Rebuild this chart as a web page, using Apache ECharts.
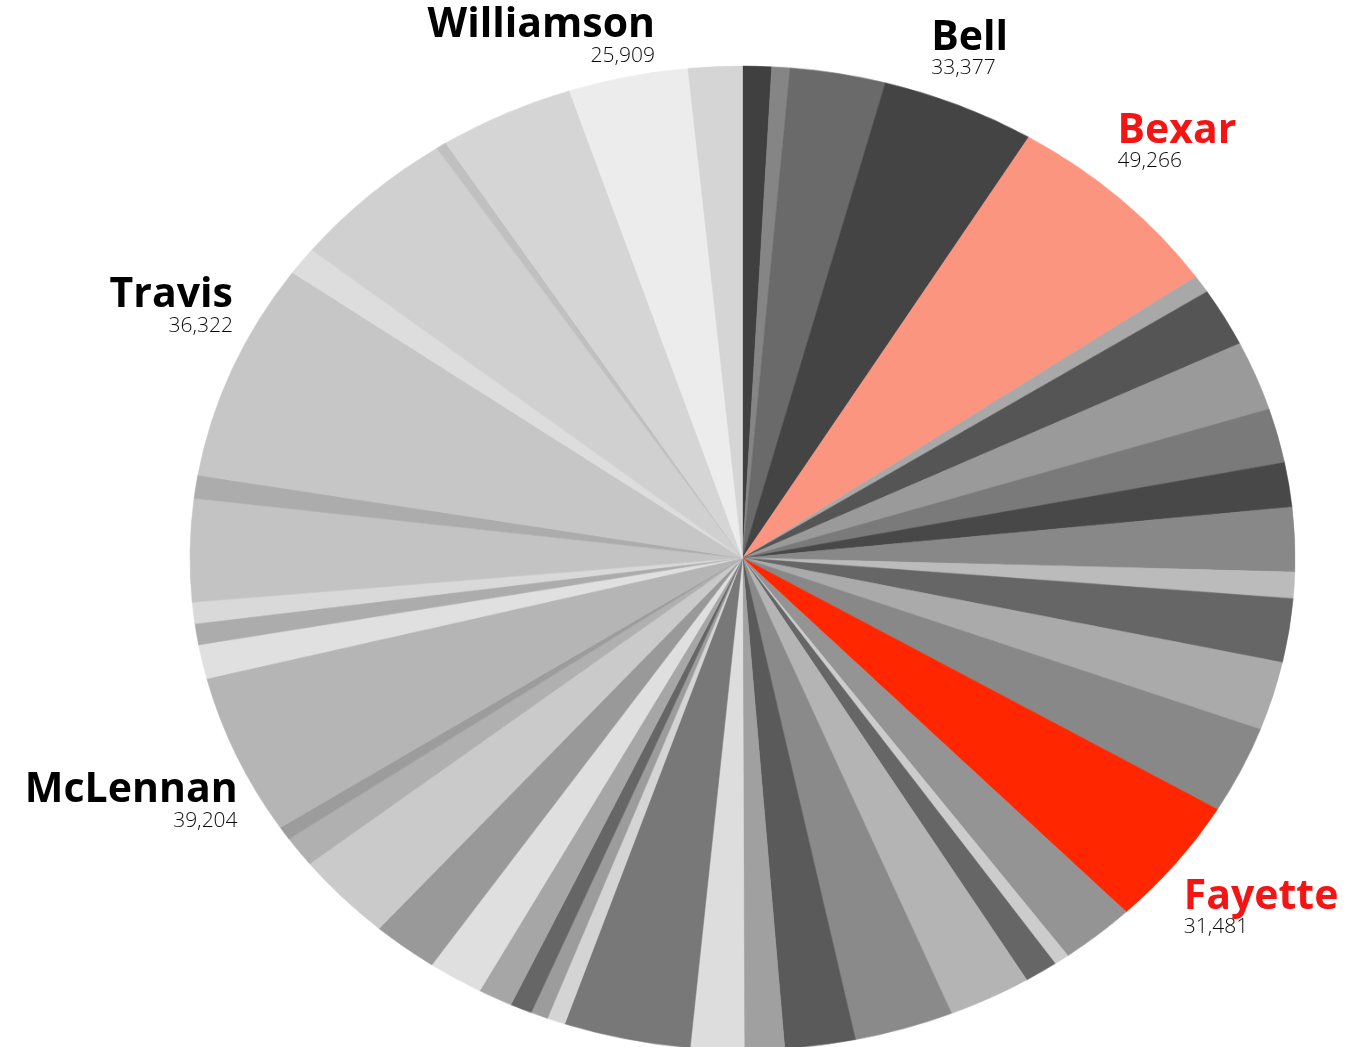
<!DOCTYPE html>
<html>
<head>
<meta charset="utf-8">
<script src="https://cdn.jsdelivr.net/npm/echarts@6/dist/echarts.min.js"></script>
<style>
  html, body { margin: 0; padding: 0; background: #fff; overflow: hidden; }
  #wrap { position: relative; width: 1356px; height: 1047px; overflow: hidden; }
  #pie { position: absolute; left: 0; top: 0; width: 1356px; height: 1176px; transform-origin: 0 0; }
  #labels { position: absolute; left: 0; top: 0; width: 1356px; height: 1047px; }
</style>
</head>
<body>
<div id="wrap"><div id="pie"></div><div id="labels"></div></div>
<script>
// ---- data (clockwise from 12 o'clock) ----
const counties = [
  '', '', '', 'Bell', 'Bexar', '', '', '', '', '',
  '', '', '', '', '', 'Fayette', '', '', '', '',
  '', '', '', '', '', '', '', '', '', '',
  '', '', '', '', 'McLennan', '', '', '', '', '',
  '', '', 'Travis', '', '', 'Williamson', ''
];
const values = [
  6260, 3920, 20690, 33377, 49266, 4340, 14250, 16930, 13220, 10840,
  15590, 6400, 15490, 16730, 21270, 31481, 16310, 3300, 7230, 17970,
  21480, 15280, 8670, 11560, 27460, 3920, 3720, 4750, 7430, 11980,
  14250, 21480, 7430, 3300, 39204, 8260, 5160, 5160, 24990, 5580,
  53070, 6810, 36322, 2270, 29320, 25909, 11670
];
const highlighted = ['Bexar', 'Fayette'];

// ---- styles ----
const sliceColors = [
  '#404040', '#858585', '#6a6a6a', '#444444', '#fc9580', '#a8a8a8', '#555555', '#9a9a9a', '#7a7a7a', '#484848',
  '#888888', '#bbbbbb', '#666666', '#aaaaaa', '#888888', '#ff2600', '#949494', '#cccccc', '#666666', '#b4b4b4',
  '#8a8a8a', '#5a5a5a', '#a0a0a0', '#dddddd', '#787878', '#d4d4d4', '#9c9c9c', '#666666', '#a6a6a6', '#dfdfdf',
  '#999999', '#cacaca', '#b0b0b0', '#9c9c9c', '#b5b5b5', '#e0e0e0', '#acacac', '#d9d9d9', '#c3c3c3', '#acacac',
  '#c6c6c6', '#dddddd', '#d0d0d0', '#c0c0c0', '#d5d5d5', '#ececec', '#d5d5d5'
];
const labelOffset = {
  'Bell': [-28, -86],
  'Bexar': [-3, -87],
  'Fayette': [8, 15],
  'McLennan': [1, 16],
  'Travis': [-137, 82],
  'Williamson': [27, -70]
};
const CX = 742.5, CY = 558, R = 552.5, SY = 492 / 552.5;

const total = values.reduce((a, b) => a + b, 0);
const midAngle = [];
let cum = 0;
values.forEach(v => { midAngle.push((cum + v / 2) / total * Math.PI * 2); cum += v; });
const fmt = v => v.toLocaleString('en-US');

// ---- pie (drawn on a circle, squeezed vertically into the ellipse) ----
const pieEl = document.getElementById('pie');
pieEl.style.transform = 'scaleY(' + SY + ')';
const chartA = echarts.init(pieEl, null, { renderer: 'canvas' });
chartA.setOption({
  animation: false,
  series: [{
    type: 'pie',
    center: [CX, CY / SY],
    radius: R,
    startAngle: 90,
    clockwise: true,
    silent: true,
    label: { show: false },
    labelLine: { show: false },
    emphasis: { disabled: true },
    data: values.map((v, i) => ({
      name: counties[i],
      value: v,
      itemStyle: { color: sliceColors[i], borderColor: sliceColors[i], borderWidth: 0.6 }
    }))
  }]
});

// ---- labels (unsqueezed text, anchored to the ellipse rim) ----
const nameBase = { fontFamily: 'Open Sans', fontWeight: 700, fontSize: 41, lineHeight: 38 };
const valBase = { fontFamily: 'Open Sans', fontWeight: 300, fontSize: 21, lineHeight: 22, color: '#0a0a0a' };
const chartB = echarts.init(document.getElementById('labels'), null, { renderer: 'canvas' });
chartB.setOption({
  animation: false,
  series: [{
    type: 'pie',
    center: [CX, CY],
    radius: R,
    startAngle: 90,
    clockwise: true,
    silent: true,
    avoidLabelOverlap: false,
    itemStyle: { color: 'rgba(0,0,0,0)', borderWidth: 0 },
    emphasis: { disabled: true },
    labelLine: { show: false, length: 0, length2: 0 },
    label: {
      show: false,
      position: 'outside',
      opacity: 1,
      formatter: p => {
        const side = Math.sin(midAngle[p.dataIndex]) >= 0 ? 'L' : 'R';
        const c = highlighted.includes(p.name) ? 'r' : 'k';
        return '{' + c + side + '|' + p.name + '}\n{v' + side + '|' + fmt(p.value) + '}';
      },
      rich: {
        kL: Object.assign({}, nameBase, { color: '#000', align: 'left' }),
        kR: Object.assign({}, nameBase, { color: '#000', align: 'right' }),
        rL: Object.assign({}, nameBase, { color: '#f51414', align: 'left' }),
        rR: Object.assign({}, nameBase, { color: '#f51414', align: 'right' }),
        vL: Object.assign({}, valBase, { align: 'left' }),
        vR: Object.assign({}, valBase, { align: 'right' })
      }
    },
    labelLayout: p => {
      const i = p.dataIndex;
      const a = midAngle[i];
      const o = labelOffset[counties[i]] || [0, 0];
      const ex = CX + R * Math.sin(a);
      const ey = CY - R * SY * Math.cos(a);
      return { x: ex + o[0], y: ey + o[1], align: Math.sin(a) >= 0 ? 'left' : 'right', verticalAlign: 'top' };
    },
    data: values.map((v, i) => ({
      name: counties[i],
      value: v,
      label: { show: counties[i] !== '' }
    }))
  }]
});
</script>
</body>
</html>
